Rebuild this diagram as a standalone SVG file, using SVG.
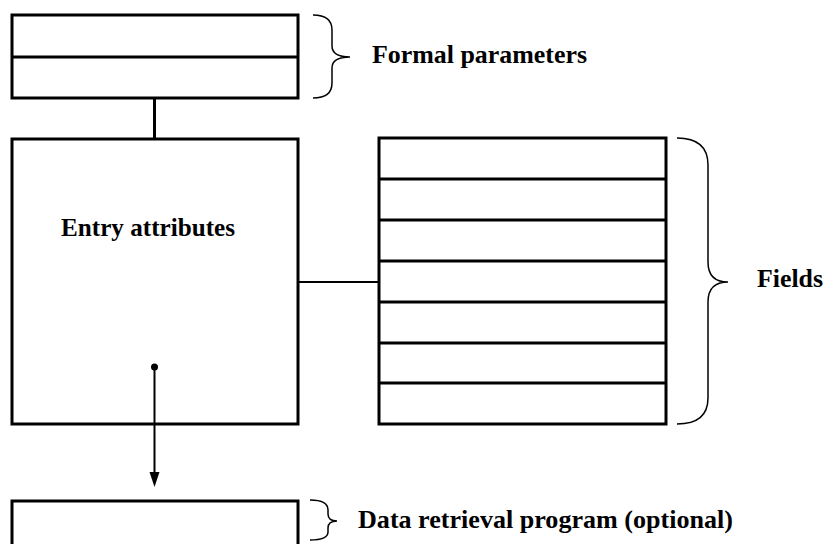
<svg xmlns="http://www.w3.org/2000/svg" width="825" height="544" viewBox="0 0 825 544">
<style>
.box{fill:#fff;stroke:#000;stroke-width:3}
.div{stroke:#000;stroke-width:3}
.brace{fill:none;stroke:#000;stroke-width:1.5}
.lbl{font-family:"Liberation Serif","Times New Roman",serif;font-weight:bold;fill:#000}
.conn{stroke:#000;fill:none}
</style>
<rect width="825" height="544" fill="#fff"/>
<g id="formal-parameters">
<rect class="box" x="12" y="15" width="286" height="83"/>
<line class="div" x1="12" y1="57" x2="298" y2="57"/>
<path class="brace" d="M313,15 Q332,15 332,30 L332,46 Q332,57 350,57 Q332,57 332,68 L332,83 Q332,98 313,98"/>
<text class="lbl" x="372" y="63" font-size="25" textLength="215" lengthAdjust="spacingAndGlyphs">Formal parameters</text>
</g>
<g id="entry-attributes">
<rect class="box" x="12" y="139" width="286" height="285"/>
<text class="lbl" x="61" y="236" font-size="25" textLength="174" lengthAdjust="spacingAndGlyphs">Entry attributes</text>
</g>
<g id="fields">
<rect class="box" x="379" y="138" width="287" height="286"/>
<line class="div" x1="379" y1="179" x2="666" y2="179"/>
<line class="div" x1="379" y1="220" x2="666" y2="220"/>
<line class="div" x1="379" y1="261" x2="666" y2="261"/>
<line class="div" x1="379" y1="302" x2="666" y2="302"/>
<line class="div" x1="379" y1="343" x2="666" y2="343"/>
<line class="div" x1="379" y1="383" x2="666" y2="383"/>
<path class="brace" d="M677,138 Q708,138 708,165 L708,262 Q708,282 728,282 Q708,282 708,302 L708,398 Q708,424 677,424"/>
<text class="lbl" x="757" y="287" font-size="25" textLength="66" lengthAdjust="spacingAndGlyphs">Fields</text>
</g>
<g id="data-retrieval">
<rect class="box" x="12" y="501" width="286" height="70"/>
<path class="brace" d="M310,500 Q328,500 328,510 L328,514 Q328,521 337,521 Q328,521 328,528 L328,532 Q328,540 310,540"/>
<text class="lbl" x="358" y="528" font-size="25" textLength="375" lengthAdjust="spacingAndGlyphs">Data retrieval program (optional)</text>
</g>
<g id="connectors">
<line class="conn" x1="154.5" y1="98" x2="154.5" y2="139" stroke-width="3"/>
<line class="conn" x1="298" y1="282" x2="379" y2="282" stroke-width="2"/>
<circle cx="154.5" cy="367" r="3.5" fill="#000"/>
<line class="conn" x1="154.5" y1="367" x2="154.5" y2="474" stroke-width="2"/>
<path d="M149.5,472 L159.5,472 L154.5,487 Z" fill="#000"/>
</g>
</svg>
